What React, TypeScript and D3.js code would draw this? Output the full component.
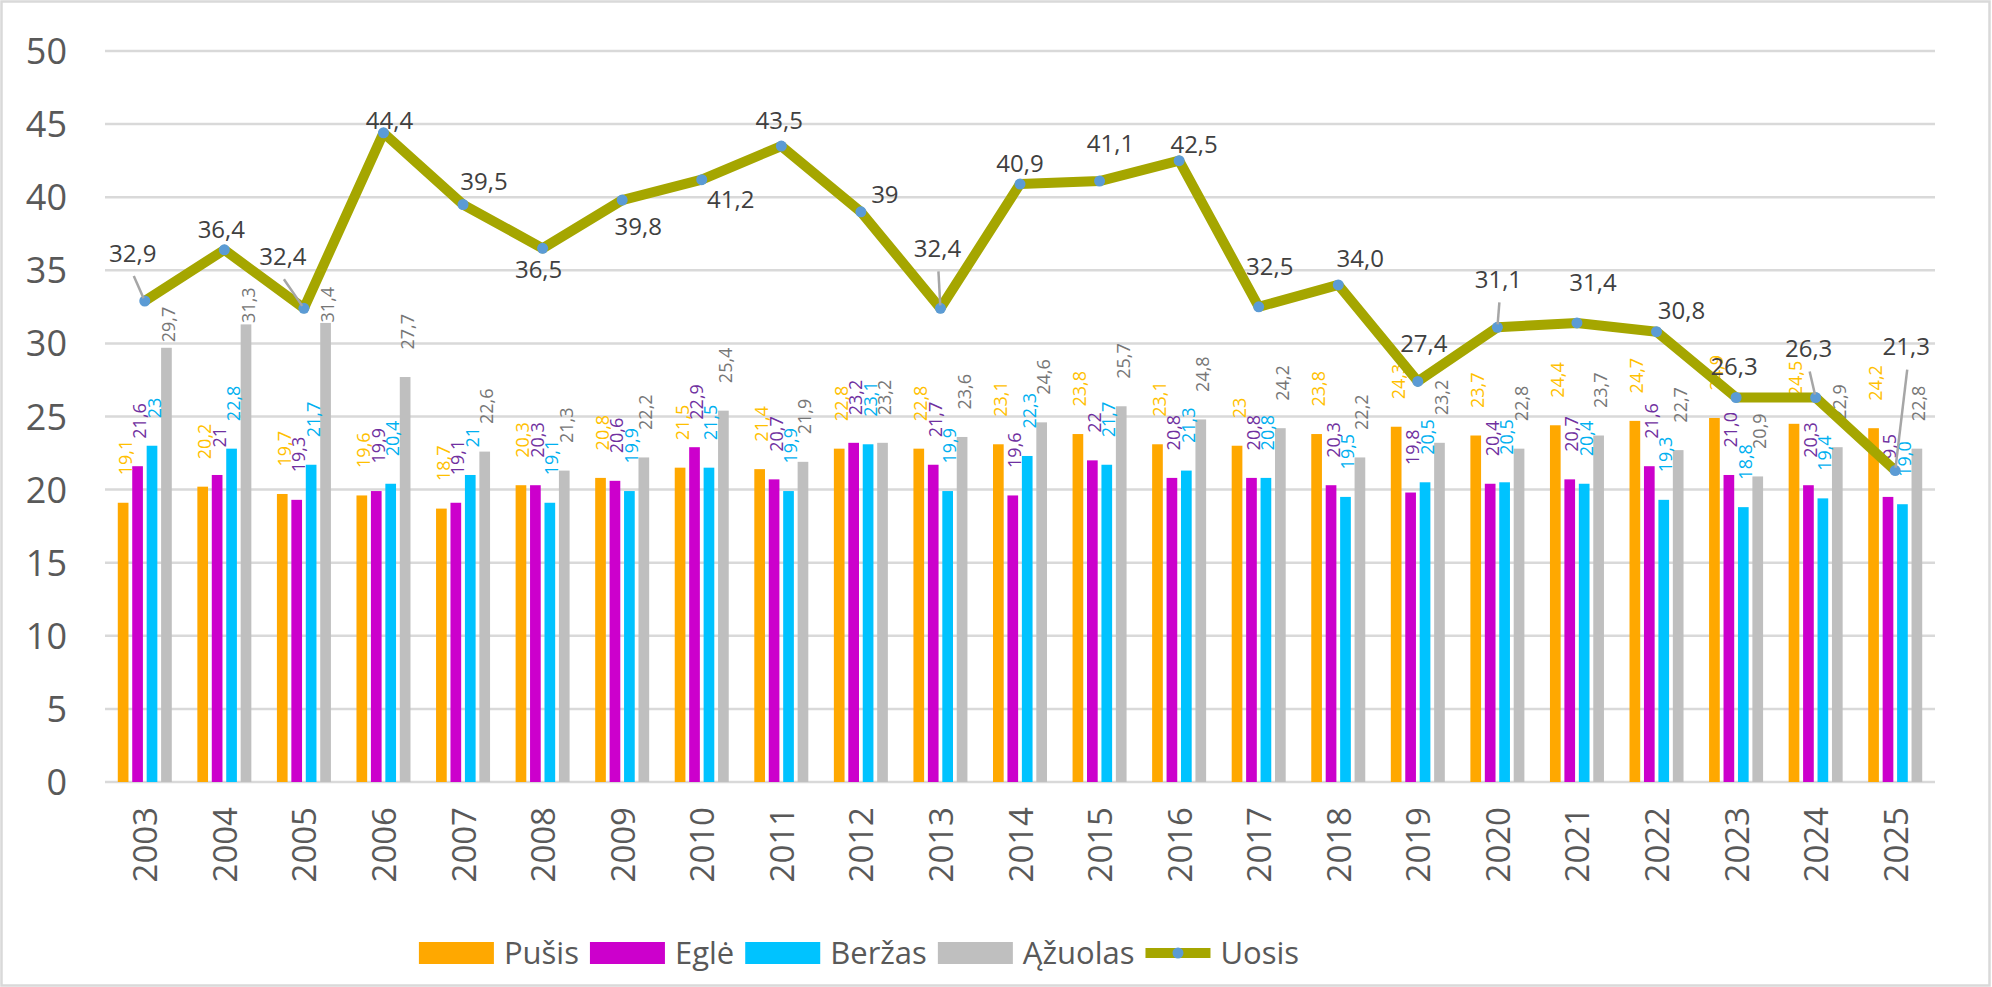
import React from 'react'
import * as d3 from 'd3'

const YEARS = ['2003', '2004', '2005', '2006', '2007', '2008', '2009', '2010', '2011', '2012', '2013', '2014',
  '2015', '2016', '2017', '2018', '2019', '2020', '2021', '2022', '2023', '2024', '2025']

// values kept as written in the source labels (some show ",0", some don't)
const PUSIS = ['19.1', '20.2', '19.7', '19.6', '18.7', '20.3', '20.8', '21.5', '21.4', '22.8', '22.8', '23.1',
  '23.8', '23.1', '23', '23.8', '24.3', '23.7', '24.4', '24.7', '24.9', '24.5', '24.2']
const EGLE = ['21.6', '21', '19.3', '19.9', '19.1', '20.3', '20.6', '22.9', '20.7', '23.2', '21.7', '19.6',
  '22', '20.8', '20.8', '20.3', '19.8', '20.4', '20.7', '21.6', '21.0', '20.3', '19.5']
const BERZAS = ['23', '22.8', '21.7', '20.4', '21', '19.1', '19.9', '21.5', '19.9', '23.1', '19.9', '22.3',
  '21.7', '21.3', '20.8', '19.5', '20.5', '20.5', '20.4', '19.3', '18.8', '19.4', '19.0']
const AZUOLAS = ['29.7', '31.3', '31.4', '27.7', '22.6', '21.3', '22.2', '25.4', '21.9', '23.2', '23.6', '24.6',
  '25.7', '24.8', '24.2', '22.2', '23.2', '22.8', '23.7', '22.7', '20.9', '22.9', '22.8']
const UOSIS = ['32.9', '36.4', '32.4', '44.4', '39.5', '36.5', '39.8', '41.2', '43.5', '39', '32.4', '40.9',
  '41.1', '42.5', '32.5', '34.0', '27.4', '31.1', '31.4', '30.8', '26.3', '26.3', '21.3']

const Y_TICKS = [0, 5, 10, 15, 20, 25, 30, 35, 40, 45, 50]

const SERIES = [
  { name: 'Pušis', values: PUSIS, fill: '#FFA800', labelColor: '#FFC000' },
  { name: 'Eglė', values: EGLE, fill: '#CC00CC', labelColor: '#7030A0' },
  { name: 'Beržas', values: BERZAS, fill: '#00C3FF', labelColor: '#00B0F0' },
  { name: 'Ąžuolas', values: AZUOLAS, fill: '#BFBFBF', labelColor: '#767676' }
]

// manual label placement for the Uosis line (dx, dy from the point, leader line)
const UOSIS_LABEL_POS: [number, number, boolean][] = [
  [-12, -48, true], [-3, -20, false], [-21, -52, true], [6, -12, false], [21, -23, false],
  [-4, 21, false], [16, 26, false], [29, 20, false], [-2, -26, false], [24, -17, false],
  [-3, -60, true], [0, -21, false], [11, -38, false], [15, -16, false], [11, -40, false],
  [22, -27, false], [6, -38, false], [1, -48, true], [16, -41, false], [25, -21, false],
  [-2, -31, false], [-7, -49, true], [11, -124, true]
]

// a few bar labels were dragged down in the original
const BAR_LABEL_NUDGE: Record<string, number> = { 'Ąžuolas-0': 22, 'Ąžuolas-1': 26, 'Ąžuolas-2': 27 }

const W = 1992
const H = 987
const FONT = '"Open Sans", "Noto Sans", sans-serif'
const LINE_COLOR = '#A5A600'
const MARKER_COLOR = '#5B9BD5'
const LEGEND_FS = 31

const fmt = (s: string) => s.replace('.', ',')

let ctx: CanvasRenderingContext2D | null = null
function textWidth(s: string, size: number) {
  if (!ctx) ctx = document.createElement('canvas').getContext('2d')
  if (!ctx) return s.length * size * 0.55
  ctx.font = `${size}px "Open Sans"`
  return ctx.measureText(s).width
}

export default function App() {
  const x = d3.scaleBand().domain(YEARS).range([105, 1935])
  const y = d3.scaleLinear().domain([0, 50]).range([782, 51])
  const inner = d3.scaleBand()
    .domain(SERIES.map(s => s.name))
    .range([-27, 27])
    .paddingInner(0.26)

  const cx = (yr: string) => (x(yr) ?? 0) + x.bandwidth() / 2

  const line = d3.line<string>()
    .x((_, i) => cx(YEARS[i]))
    .y(d => y(+d))

  // legend layout: swatch + text, centred under the plot
  const items = [
    ...SERIES.map(s => ({ name: s.name, color: s.fill, kind: 'bar' })),
    { name: 'Uosis', color: LINE_COLOR, kind: 'line' }
  ].map(it => ({ ...it, sw: it.kind === 'bar' ? 75 : 65, tw: textWidth(it.name, LEGEND_FS) }))
  const gap = 11
  const total = d3.sum(items, it => it.sw + 10 + it.tw) + gap * (items.length - 1)
  let pos = 859 - total / 2
  const legend = items.map(it => {
    const o = { ...it, x: pos }
    pos += it.sw + 10 + it.tw + gap
    return o
  })
  const legendY = 953

  return (
    <svg width={W} height={H} style={{ position: 'absolute', left: 0, top: 0, background: '#fff' }}
      fontFamily={FONT}>
      <rect x={1.5} y={1.5} width={W - 4} height={H - 3} fill="#fff" stroke="#D9D9D9" strokeWidth={2.5} />

      {/* gridlines */}
      {Y_TICKS.map(t => (
        <line key={t} x1={105} x2={1935} y1={y(t)} y2={y(t)} stroke="#D9D9D9" strokeWidth={2.5} />
      ))}

      {/* y tick labels */}
      {Y_TICKS.map(t => (
        <text key={'yl' + t} x={67} y={y(t) + 13} textAnchor="end" fontSize={36} fill="#595959">{t}</text>
      ))}

      {/* bars */}
      {SERIES.map(s => (
        <g key={s.name}>
          {s.values.map((v, i) => (
            <rect key={i}
              x={cx(YEARS[i]) + (inner(s.name) ?? 0)}
              y={y(+v)}
              width={inner.bandwidth()}
              height={y(0) - y(+v)}
              fill={s.fill} />
          ))}
        </g>
      ))}

      {/* bar labels */}
      {SERIES.map(s => (
        <g key={'lab' + s.name}>
          {s.values.map((v, i) => {
            const bx = cx(YEARS[i]) + (inner(s.name) ?? 0) + inner.bandwidth() / 2 + 1.5
            const by = y(+v) - 27.5 + (BAR_LABEL_NUDGE[`${s.name}-${i}`] || 0)
            return (
              <text key={i} transform={`translate(${bx},${by}) rotate(-90)`}
                dominantBaseline="central" fontSize={18} fill={s.labelColor}>{fmt(v)}</text>
            )
          })}
        </g>
      ))}

      {/* Uosis line */}
      <path d={line(UOSIS) ?? ''} fill="none" stroke={LINE_COLOR} strokeWidth={10} strokeLinejoin="round" />
      {UOSIS.map((v, i) => (
        <circle key={i} cx={cx(YEARS[i])} cy={y(+v)} r={5.5} fill={MARKER_COLOR} />
      ))}

      {/* Uosis labels */}
      {UOSIS.map((v, i) => {
        const px = cx(YEARS[i])
        const py = y(+v)
        const [dx, dy, leader] = UOSIS_LABEL_POS[i]
        const lx = px + dx
        const ly = py + dy
        let lead = null
        if (leader) {
          const sx = lx + 1
          const sy = ly + 23
          const len = Math.hypot(px - sx, py - sy)
          const ex = px - (px - sx) / len * 3
          const ey = py - (py - sy) / len * 3
          lead = <line x1={sx} y1={sy} x2={ex} y2={ey} stroke="#A6A6A6" strokeWidth={2.5} />
        }
        return (
          <g key={'ul' + i}>
            {lead}
            <text x={lx} y={ly + 8.6} textAnchor="middle" fontSize={24} fill="#404040">{fmt(v)}</text>
          </g>
        )
      })}

      {/* x axis labels */}
      {YEARS.map(yr => (
        <text key={'x' + yr} transform={`translate(${cx(yr)},807) rotate(-90)`} textAnchor="end"
          dominantBaseline="central" fontSize={33} fill="#595959">{yr}</text>
      ))}

      {/* legend */}
      {legend.map(it => (
        <g key={'lg' + it.name}>
          {it.kind === 'bar'
            ? <rect x={it.x} y={legendY - 11} width={it.sw} height={22} fill={it.color} />
            : <>
                <line x1={it.x} x2={it.x + it.sw} y1={legendY} y2={legendY} stroke={it.color} strokeWidth={10} />
                <circle cx={it.x + it.sw / 2} cy={legendY} r={5.5} fill={MARKER_COLOR} />
              </>}
          <text x={it.x + it.sw + 10} y={legendY + 11} fontSize={LEGEND_FS} fill="#595959">{it.name}</text>
        </g>
      ))}
    </svg>
  )
}
